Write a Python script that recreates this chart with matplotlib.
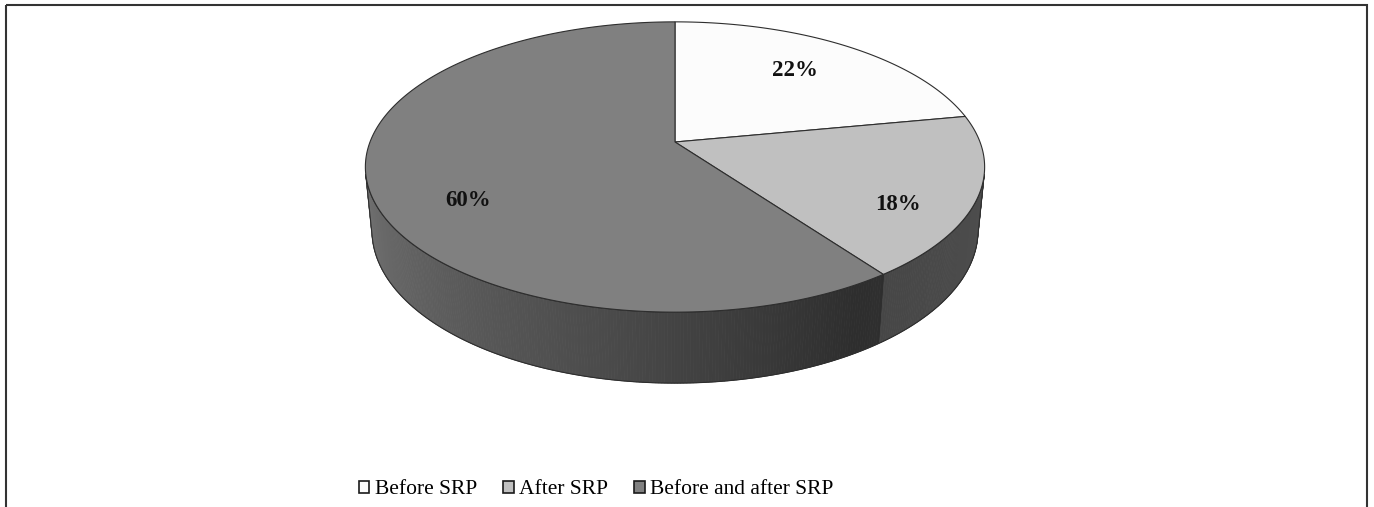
import numpy as np
import matplotlib
matplotlib.use("Agg")
import matplotlib.pyplot as plt
from matplotlib.patches import Polygon, Rectangle, Patch

# ---- data ----
categories = ["Before SRP", "After SRP", "Before and after SRP"]
values = [22, 18, 60]
labels = ["22%", "18%", "60%"]

# ---- style / layout ----
top_colors = ["#fcfcfc", "#c0c0c0", "#808080"]
edge_col = "#2e2e2e"
W, H = 1374, 507
cx, cy = 675.0, 142.0      # projected pie centre (px)
S = 305.0                  # scale (px per unit radius)
elev = np.radians(27.5)    # viewing elevation
D = 5.15                   # camera distance (units)
thick = 0.236              # pie thickness (units)
label_xy = [(795, 70), (898, 205), (468, 200)]

def proj(phi_deg, r=1.0, z=0.0):
    phi = np.radians(np.asarray(phi_deg, dtype=float))
    x = r * np.cos(phi)
    y = r * np.sin(phi)
    u = x
    v = z * np.cos(elev) + y * np.sin(elev)
    w = y * np.cos(elev) - z * np.sin(elev)
    f = D / (D + w)
    return cx + S * u * f, cy - S * v * f

def light(phi):
    p = ((np.asarray(phi) + 180) % 360) - 180
    return np.interp(p, [-180, -167, -100, -60, 0], [0.9, 0.88, 0.58, 0.36, 0.42])

def shade(hexcol, k):
    rgb = np.array(matplotlib.colors.to_rgb(hexcol))
    return tuple(np.clip(rgb * k, 0, 1))

fig = plt.figure(figsize=(W / 100, H / 100), dpi=100)
ax = fig.add_axes([0, 0, 1, 1])
ax.set_xlim(0, W)
ax.set_ylim(H, 0)
ax.axis("off")

# slice angle ranges (clockwise from 12 o'clock)
total = float(sum(values))
starts, ends = [], []
a = 90.0
for v in values:
    starts.append(a)
    a -= 360.0 * v / total
    ends.append(a)

# visible wall range
lim = np.degrees(np.arcsin(1.0 / (D * np.cos(elev))))
vis_lo, vis_hi = -180 + lim, -lim

# ---- walls ----
for i in range(len(values)):
    s, e = starts[i], ends[i]   # s > e
    for shift in (0, -360, 360):
        lo = max(e, vis_lo + shift)
        hi = min(s, vis_hi + shift)
        if hi <= lo:
            continue
        n = max(int((hi - lo) / 0.5), 2)
        ph = np.linspace(hi, lo, n + 1)
        for j in range(n):
            pa, pb = ph[j], ph[j + 1]
            xa, ya = proj([pa, pb], 1.0, 0.0)
            xb, yb = proj([pb, pa], 1.0, -thick)
            col = shade(top_colors[i], light(0.5 * (pa + pb)))
            ax.add_patch(Polygon(np.column_stack([np.r_[xa, xb], np.r_[ya, yb]]),
                                 closed=True, facecolor=col, edgecolor=col,
                                 linewidth=0.6, zorder=2))
        xt, yt = proj(ph, 1.0, 0.0)
        xbm, ybm = proj(ph[::-1], 1.0, -thick)
        ax.add_patch(Polygon(np.column_stack([np.r_[xt, xbm], np.r_[yt, ybm]]),
                             closed=True, fill=False, edgecolor=edge_col,
                             linewidth=0.8, zorder=3))

# ---- top faces ----
for i in range(len(values)):
    ph = np.linspace(starts[i], ends[i], 300)
    xs, ys = proj(ph, 1.0, 0.0)
    pts = np.column_stack([np.r_[cx, xs], np.r_[cy, ys]])
    ax.add_patch(Polygon(pts, closed=True, facecolor=top_colors[i],
                         edgecolor=edge_col, linewidth=0.8, zorder=4))

# ---- labels ----
for (lx, ly), t in zip(label_xy, labels):
    ax.text(lx, ly, t, ha="center", va="center", fontsize=16.5,
            fontweight="bold", family="Liberation Serif", color="#111111", zorder=6)

# ---- legend ----
handles = [Patch(facecolor=c, edgecolor="#1a1a1a", linewidth=1.2) for c in top_colors]
ax.legend(handles, categories, loc="center", bbox_to_anchor=(596 / W, 1 - 490 / H),
          ncol=3, frameon=False, prop={"family": "Liberation Serif", "size": 15.5},
          handlelength=0.5, handleheight=0.5, handletextpad=0.25,
          columnspacing=1.2, borderaxespad=0, borderpad=0)

# ---- outer frame ----
ax.add_patch(Rectangle((5.5, 4.5), 1361, 520, fill=False, edgecolor="#333333",
                       linewidth=1.5, zorder=10, clip_on=False))

fig.savefig("out.png", dpi=100)
